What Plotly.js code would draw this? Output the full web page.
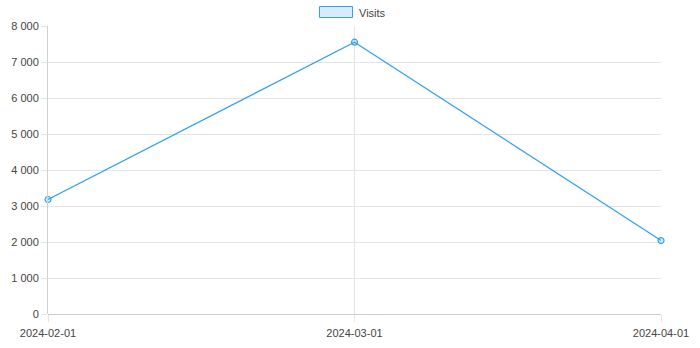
<!DOCTYPE html>
<html>
<head>
<meta charset="utf-8">
<script src="https://cdn.plot.ly/plotly-3.0.1.min.js"></script>
<style>html,body{margin:0;padding:0;background:#fff;}#chart{width:700px;height:348px;}</style>
</head>
<body>
<div id="chart"></div>
<script>
const categories = ["2024-02-01", "2024-03-01", "2024-04-01"];
const visits = [3180, 7550, 2040];
const seriesName = "Visits";

const blue = "#36A2EB";
const gridColor = "#e5e5e5";
const fontSpec = {family: "Liberation Sans, Arial, Helvetica, sans-serif", size: 11, color: "#444"};

const L = 48, R = 39, T = 26, B = 34;
const W = 700, H = 348;
const pw = W - L - R, ph = H - T - B;
const px = x => (x - L) / pw;
const py = y => (H - B - y) / ph;

const trace = {
  x: categories,
  y: visits,
  type: "scatter",
  mode: "lines+markers",
  name: seriesName,
  line: {color: blue, width: 1.2},
  marker: {symbol: "circle", size: 6, color: "rgba(54,162,235,0.2)", line: {color: blue, width: 1.2}},
  cliponaxis: false,
  showlegend: false
};

const layout = {
  width: W, height: H,
  margin: {l: L, r: R, t: T, b: B, pad: 0},
  paper_bgcolor: "#fff", plot_bgcolor: "#fff",
  font: fontSpec,
  separators: ". ",
  showlegend: false,
  xaxis: {
    type: "category",
    range: [0, categories.length - 1],
    showgrid: true, gridcolor: gridColor, gridwidth: 1,
    zeroline: false,
    showline: false,
    ticks: "outside", ticklen: 7, tickcolor: gridColor,
    ticklabelstandoff: 2,
    tickfont: fontSpec,
    fixedrange: true
  },
  yaxis: {
    range: [0, 8000],
    dtick: 1000,
    tickformat: ",d",
    showgrid: true, gridcolor: gridColor, gridwidth: 1,
    zeroline: true, zerolinecolor: "#cccccc", zerolinewidth: 1,
    showline: true, linecolor: "#d0d0d0", linewidth: 1,
    ticks: "outside", ticklen: 6, tickcolor: gridColor,
    tickfont: fontSpec,
    fixedrange: true
  },
  shapes: [
    {type: "rect", xref: "paper", yref: "paper",
     x0: px(319.5), x1: px(352.5), y0: py(17.5), y1: py(6.5),
     line: {color: blue, width: 1}, fillcolor: "rgba(54,162,235,0.2)"}
  ],
  annotations: [
    {xref: "paper", yref: "paper", x: px(357), y: py(12.5), xanchor: "left", yanchor: "middle",
     text: seriesName, showarrow: false, font: fontSpec}
  ]
};

Plotly.newPlot("chart", [trace], layout, {displayModeBar: false, staticPlot: true});
</script>
</body>
</html>
